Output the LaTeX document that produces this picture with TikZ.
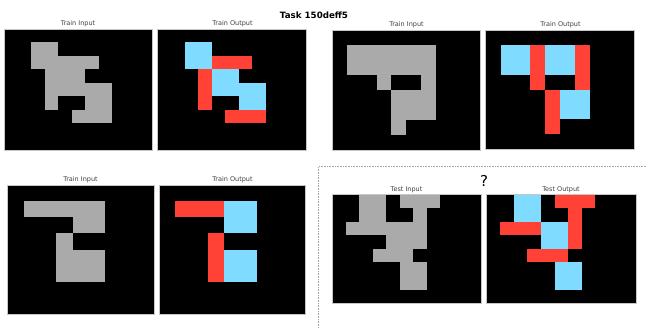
\documentclass[tikz,border=0pt]{standalone}
\usepackage{fontspec}
\setmainfont{DejaVu Sans}
\definecolor{arcgray}{HTML}{AAAAAA}
\definecolor{arcred}{HTML}{FF4136}
\definecolor{arccyan}{HTML}{7FDBFF}
\tikzset{
  panelborder/.style={draw=gray!45, line width=0.6pt},
  subtitle/.style={font=\fontsize{6.5}{7}\selectfont, text=black!75, inner sep=0pt},
}
\newcommand\arcgrid[7]{%
  \pgfmathsetmacro\cw{(#3-#1)/#5}%
  \pgfmathsetmacro\ch{(#4-#2)/#6}%
  \fill[black] (#1,#2) rectangle (#3,#4);
  \begin{scope}[shift={(#1,#2)}, x=\cw pt, y=-\ch pt]
    #7
  \end{scope}
  \draw[panelborder] (#1,#2) rectangle (#3,#4);
}
% col, row, width, height, colour
\newcommand\cellr[5]{\fill[#5] (#1,#2) rectangle ++(#3,#4);}
\begin{document}
\begin{tikzpicture}[x=1pt,y=-1pt]
\useasboundingbox (0,0) rectangle (646,329);
\fill[white] (0,0) rectangle (646,329);

\node[font=\bfseries\fontsize{8.7}{10}\selectfont, inner sep=0pt] (maintitle) at (314,15) {Task 150deff5};

% ---- Example 1 ----
\node[subtitle] (t1) at (78,24) {Train Input};
\arcgrid{4.5}{29}{152.5}{150}{11}{9}{%
  \cellr{2}{1}{2}{1}{arcgray}
  \cellr{2}{2}{5}{1}{arcgray}
  \cellr{3}{3}{3}{1}{arcgray}
  \cellr{3}{4}{5}{1}{arcgray}
  \cellr{3}{5}{1}{1}{arcgray}
  \cellr{6}{5}{2}{1}{arcgray}
  \cellr{5}{6}{3}{1}{arcgray}
}
\node[subtitle] (t2) at (232.5,24) {Train Output};
\arcgrid{157.7}{29}{306.5}{150}{11}{9}{%
  \cellr{2}{1}{2}{2}{arccyan}
  \cellr{4}{2}{3}{1}{arcred}
  \cellr{3}{3}{1}{3}{arcred}
  \cellr{4}{3}{2}{2}{arccyan}
  \cellr{6}{4}{2}{2}{arccyan}
  \cellr{5}{6}{3}{1}{arcred}
}

% ---- Example 2 ----
\node[subtitle] (t3) at (406.5,25) {Train Input};
\arcgrid{332}{30}{480.7}{150}{10}{8}{%
  \cellr{1}{1}{6}{2}{arcgray}
  \cellr{3}{3}{1}{1}{arcgray}
  \cellr{6}{3}{1}{1}{arcgray}
  \cellr{4}{4}{3}{2}{arcgray}
  \cellr{4}{6}{1}{1}{arcgray}
}
\node[subtitle] (t4) at (560.5,25) {Train Output};
\arcgrid{485.7}{30.5}{634.5}{149}{10}{8}{%
  \cellr{1}{1}{2}{2}{arccyan}
  \cellr{3}{1}{1}{3}{arcred}
  \cellr{4}{1}{2}{2}{arccyan}
  \cellr{6}{1}{1}{3}{arcred}
  \cellr{4}{4}{1}{3}{arcred}
  \cellr{5}{4}{2}{2}{arccyan}
}

% ---- Example 3 ----
\node[subtitle] (t5) at (80.5,179.5) {Train Input};
\arcgrid{7.3}{185}{154}{314}{9}{8}{%
  \cellr{1}{1}{5}{1}{arcgray}
  \cellr{4}{2}{2}{1}{arcgray}
  \cellr{3}{3}{1}{1}{arcgray}
  \cellr{3}{4}{3}{2}{arcgray}
}
\node[subtitle] (t6) at (232.5,179.5) {Train Output};
\arcgrid{159}{185}{305.7}{314}{9}{8}{%
  \cellr{1}{1}{3}{1}{arcred}
  \cellr{4}{1}{2}{2}{arccyan}
  \cellr{3}{3}{1}{3}{arcred}
  \cellr{4}{4}{2}{2}{arccyan}
}

% ---- Test ----
\draw[gray!70, densely dotted, line width=0.6pt] (646,166.7) -- (318.3,166.7) -- (318.3,329);
\node[font=\fontsize{15}{16}\selectfont, inner sep=0pt] (qmark) at (484,181) {?};

\node[subtitle] (t7) at (406.5,189.5) {Test Input};
\arcgrid{332.3}{194.3}{481}{303.3}{11}{8}{%
  \cellr{2}{0}{2}{2}{arcgray}
  \cellr{5}{0}{3}{1}{arcgray}
  \cellr{6}{1}{1}{1}{arcgray}
  \cellr{1}{2}{6}{1}{arcgray}
  \cellr{4}{3}{3}{1}{arcgray}
  \cellr{3}{4}{3}{1}{arcgray}
  \cellr{5}{5}{2}{2}{arcgray}
}
\node[subtitle] (t8) at (561,189.5) {Test Output};
\arcgrid{486.7}{194.3}{636}{303.3}{11}{8}{%
  \cellr{2}{0}{2}{2}{arccyan}
  \cellr{5}{0}{3}{1}{arcred}
  \cellr{6}{1}{1}{3}{arcred}
  \cellr{1}{2}{3}{1}{arcred}
  \cellr{4}{2}{2}{2}{arccyan}
  \cellr{3}{4}{3}{1}{arcred}
  \cellr{5}{5}{2}{2}{arccyan}
}
\end{tikzpicture}
\end{document}
